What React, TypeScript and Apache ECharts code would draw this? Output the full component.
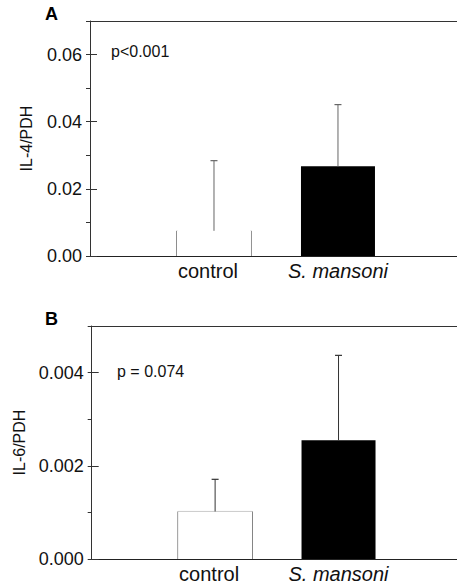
import React, { useEffect, useRef } from "react";
import * as echarts from "echarts";

const categories = ["control", "S. mansoni"];
const categoryPositions = [1, 2];
const il4Means = [0.0075, 0.0267];
const il4Upper = [0.0284, 0.0451];
const il6Means = [0.00102, 0.00255];
const il6Upper = [0.00171, 0.00437];
const il4TickLabels = [0, 0.02, 0.04, 0.06];
const il6TickLabels = [0, 0.002, 0.004];
const pTexts = ["p<0.001", "p = 0.074"];
const panelLetters = ["A", "B"];
const axisNames = ["IL-4/PDH", "IL-6/PDH"];

const FONT = "'Liberation Sans', Arial, Helvetica, sans-serif";

export default function App() {
  const ref = useRef<HTMLDivElement>(null);
  useEffect(() => {
    if (!ref.current) return;
    const chart = echarts.init(ref.current, null, { renderer: "svg" });

    const grids = [
      { left: 90, top: 21, height: 235, right: 0 },
      { left: 91.7, top: 326, height: 233.3, right: 0 },
    ];
    const panels = [
      { means: il4Means, upper: il4Upper, max: 0.07, minor: 0.01, ticks: il4TickLabels, dec: 2, errColor: "#666", topEdge: null as null | string, nameGap: 56 },
      { means: il6Means, upper: il6Upper, max: 0.005, minor: 0.001, ticks: il6TickLabels, dec: 3, errColor: "#333", topEdge: "#999", nameGap: 63 },
    ];

    const xAxis: any[] = [];
    const yAxis: any[] = [];
    const series: any[] = [];

    const catLabel = (v: number) => {
      const i = categoryPositions.indexOf(Math.round(v * 100) / 100);
      if (i < 0) return "";
      const c = categories[i];
      return c === "S. mansoni" ? "{i|S. mansoni}" : "{c|" + c + "}";
    };

    panels.forEach((p, gi) => {
      xAxis.push({
        type: "value",
        gridIndex: gi,
        min: 0,
        max: 2.96,
        interval: 1,
        splitLine: { show: false },
        axisTick: { show: false },
        axisLine: { onZero: false, lineStyle: { color: "#222", width: 1.2 } },
        axisLabel: {
          fontSize: 20,
          color: "#111",
          fontFamily: FONT,
          margin: 5,
          showMinLabel: false,
          showMaxLabel: false,
          formatter: catLabel,
          rich: {
            i: { fontStyle: "italic", fontSize: 20, fontFamily: FONT, color: "#111" },
            c: { fontSize: 20, fontFamily: FONT, color: "#111", padding: [0, 12, 0, 0] },
          },
        },
      });
      xAxis.push({
        type: "value",
        gridIndex: gi,
        position: "top",
        min: 0,
        max: 2.96,
        splitLine: { show: false },
        axisTick: { show: false },
        axisLabel: { show: false },
        axisLine: { onZero: false, lineStyle: { color: "#333", width: 1 } },
      });
      yAxis.push({
        type: "value",
        gridIndex: gi,
        min: 0,
        max: p.max,
        interval: p.minor,
        name: axisNames[gi],
        nameLocation: "middle",
        nameGap: p.nameGap,
        nameTextStyle: { fontSize: 16, fontFamily: FONT, color: "#111" },
        axisLine: { show: true, onZero: false, lineStyle: { color: "#333", width: 1 } },
        axisTick: { show: true, length: 4, lineStyle: { color: "#333" } },
        splitLine: { show: false },
        axisLabel: {
          fontSize: 18,
          fontFamily: FONT,
          color: "#111",
          margin: 8,
          formatter: (v: number) => {
            const k = Math.round(v / p.minor);
            return k % 2 === 0 ? v.toFixed(p.dec) : "";
          },
        },
      });
      yAxis.push({
        type: "value",
        gridIndex: gi,
        min: 0,
        max: p.max,
        interval: p.minor * 2,
        axisLine: { show: false },
        axisTick: { show: true, length: 7, lineStyle: { color: "#333" }, customValues: p.ticks },
        axisLabel: { show: false },
        splitLine: { show: false },
      });

      const xi = gi * 2;
      const yi = gi * 2;
      series.push({
        type: "bar",
        xAxisIndex: xi,
        yAxisIndex: yi,
        barWidth: 74,
        data: [
          { value: [categoryPositions[0], p.means[0]], itemStyle: { color: "#ffffff" } },
          { value: [categoryPositions[1], p.means[1]], itemStyle: { color: "#000000" } },
        ],
      });
      const topEdge = p.topEdge;
      series.push({
        type: "custom",
        xAxisIndex: xi,
        yAxisIndex: yi,
        data: [[categoryPositions[0], p.means[0]]],
        encode: { x: 0, y: 1 },
        renderItem: (params: any, api: any) => {
          const top = api.coord([api.value(0), api.value(1)]);
          const base = api.coord([api.value(0), 0]);
          const hw = 37;
          const children: any[] = [
            { type: "line", shape: { x1: top[0] - hw, y1: base[1], x2: top[0] - hw, y2: top[1] }, style: { stroke: "#222", lineWidth: 1 } },
            { type: "line", shape: { x1: top[0] + hw, y1: base[1], x2: top[0] + hw, y2: top[1] }, style: { stroke: "#222", lineWidth: 1 } },
          ];
          if (topEdge) {
            children.push({ type: "line", shape: { x1: top[0] - hw, y1: top[1], x2: top[0] + hw, y2: top[1] }, style: { stroke: topEdge, lineWidth: 1 } });
          }
          return { type: "group", children };
        },
      });
      series.push({
        type: "custom",
        xAxisIndex: xi,
        yAxisIndex: yi,
        data: [
          [categoryPositions[0], p.means[0], p.upper[0]],
          [categoryPositions[1], p.means[1], p.upper[1]],
        ],
        encode: { x: 0, y: [1, 2] },
        z: 5,
        renderItem: (params: any, api: any) => {
          const lo = api.coord([api.value(0), api.value(1)]);
          const hi = api.coord([api.value(0), api.value(2)]);
          const cap = 3.5;
          return {
            type: "group",
            children: [
              { type: "line", shape: { x1: lo[0], y1: lo[1], x2: hi[0], y2: hi[1] }, style: { stroke: p.errColor, lineWidth: 1 } },
              { type: "line", shape: { x1: hi[0] - cap, y1: hi[1], x2: hi[0] + cap, y2: hi[1] }, style: { stroke: p.errColor, lineWidth: 1.2 } },
            ],
          };
        },
      });
    });

    chart.setOption({
      animation: false,
      backgroundColor: "#ffffff",
      grid: grids,
      xAxis,
      yAxis,
      series,
      graphic: [
        { type: "text", left: 45, top: 5, style: { text: panelLetters[0], font: `bold 18px ${FONT}`, fill: "#000" } },
        { type: "text", left: 45, top: 310, style: { text: panelLetters[1], font: `bold 18px ${FONT}`, fill: "#000" } },
        { type: "text", left: 111, top: 43, style: { text: pTexts[0], font: `16px ${FONT}`, fill: "#111" } },
        { type: "text", left: 117, top: 363, style: { text: pTexts[1], font: `16px ${FONT}`, fill: "#111" } },
      ],
    });
    return () => chart.dispose();
  }, []);
  return <div ref={ref} style={{ position: "fixed", left: 0, top: 0, width: 457, height: 584 }} />;
}
